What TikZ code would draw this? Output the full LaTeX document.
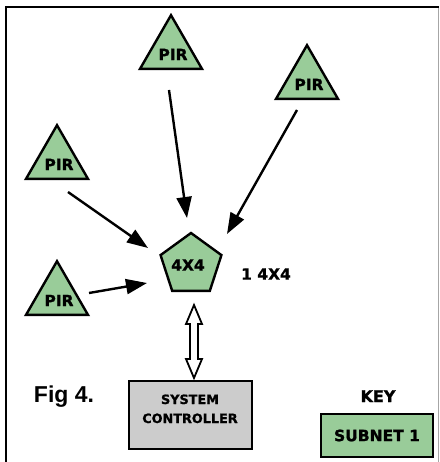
\documentclass[tikz,border=0pt]{standalone}
\usepackage{fontspec}
\setmainfont{DejaVu Sans}[BoldFeatures={FakeBold=1.2}]
\newfontfamily\figfont{Liberation Sans}
\usetikzlibrary{shapes.geometric,arrows.meta,calc}
\definecolor{pirgreen}{RGB}{153,204,153}
\definecolor{boxgray}{RGB}{204,204,204}
\tikzset{
  lbl/.style={font=\bfseries\fontsize{15.5}{18}\selectfont, inner sep=0pt},
  pir/.style={regular polygon, regular polygon sides=3, minimum size=71.6pt,
    inner sep=0pt, draw=black, line width=2.4pt, fill=pirgreen,
    label={[lbl, xshift=2pt, yshift=-3.5pt]center:PIR}},
  pent/.style={regular polygon, regular polygon sides=5, minimum size=64pt,
    inner sep=0pt, draw=black, line width=2.4pt, fill=pirgreen, lbl},
  sig/.style={line width=2.4pt, -{Triangle[length=21pt,width=15pt]}},
  hollow/.style={draw=black, line width=1.8pt, fill=white, line join=miter},
}
\begin{document}
\begin{tikzpicture}[x=1pt,y=-1pt]
\useasboundingbox (0,0) rectangle (439,462);
% frame
\draw[line width=2.4pt] (6,462) -- (6,7) -- (439,7);
\draw[black!35, line width=0.9pt] (438,8) -- (438,462);

% sensors
\node[pir] (p1) at (171,51) {};
\node[pir] (p2) at (307,81) {};
\node[pir] (p3) at (57,161) {};
\node[pir] (p4) at (57,297) {};

% hub
\node[pent] (hub) at (191,265) {\hspace*{-6pt}4X4};
\node[lbl] (hublbl) at (266,274) {1 4X4};

% arrow end points
\coordinate (s1) at (169,90);  \coordinate (e1) at (187,218);
\coordinate (s2) at (297,110); \coordinate (e2) at (227,234);
\coordinate (s3) at (68,192);  \coordinate (e3) at (148,248);
\coordinate (s4) at (89,293);  \coordinate (e4) at (147,283);
\draw[sig] (s1) -- (e1);
\draw[sig] (s2) -- (e2);
\draw[sig] (s3) -- (e3);
\draw[sig] (s4) -- (e4);

% system controller
\node[draw=black, line width=2.2pt, fill=boxgray, minimum width=123pt,
  minimum height=68pt, inner sep=0pt] (sc) at (190.5,415) {};
\node[font=\bfseries\fontsize{12.8}{19}\selectfont, align=center, anchor=base,
  inner sep=0pt] (sctext) at (190,423) {SYSTEM\\CONTROLLER};

% hollow double arrow between hub and controller
\coordinate (dt) at (194,305);
\coordinate (db) at (194,378);
\draw[hollow] (dt) -- ($(dt)+(8,19)$) -- ($(dt)+(4,19)$) -- ($(db)+(4,-19)$)
  -- ($(db)+(8,-19)$) -- (db) -- ($(db)+(-8,-19)$) -- ($(db)+(-4,-19)$)
  -- ($(dt)+(-4,19)$) -- ($(dt)+(-8,19)$) -- cycle;

% caption and key
\node[font=\figfont\bfseries\fontsize{23}{26}\selectfont, anchor=base, inner sep=0pt]
  (fig) at (64,402) {Fig 4.};
\node[font=\bfseries\fontsize{16}{19}\selectfont, anchor=base, inner sep=0pt]
  (key) at (378,402) {KEY};
\node[draw=black, line width=2.4pt, fill=pirgreen, minimum width=112pt,
  minimum height=43pt, inner sep=0pt, lbl] (sub) at (377,435.5) {SUBNET 1};
\end{tikzpicture}
\end{document}
